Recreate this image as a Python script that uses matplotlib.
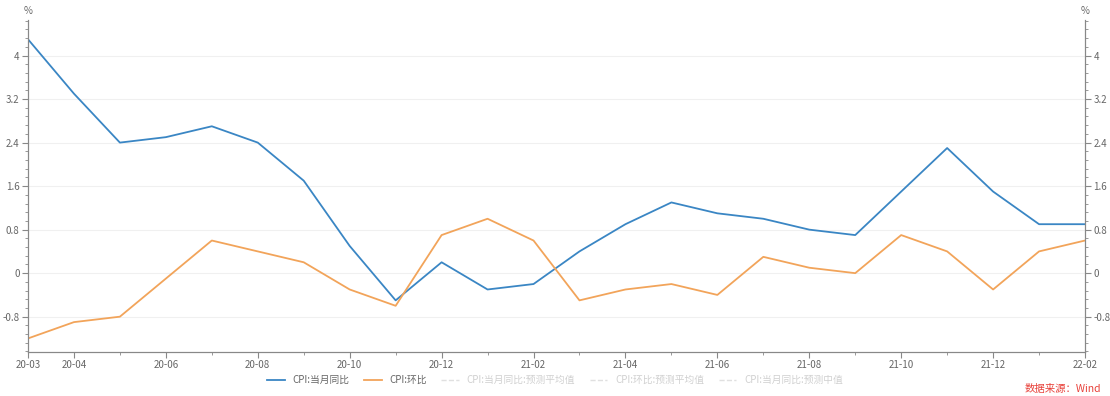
import matplotlib
matplotlib.use('Agg')
import matplotlib.pyplot as plt
import numpy as np
from matplotlib.ticker import MultipleLocator

plt.rcParams['font.family'] = ['Noto Sans CJK SC', 'DejaVu Sans']

# 数据：2020-03 ~ 2022-02
months = ['20-03', '20-04', '20-05', '20-06', '20-07', '20-08', '20-09', '20-10',
          '20-11', '20-12', '21-01', '21-02', '21-03', '21-04', '21-05', '21-06',
          '21-07', '21-08', '21-09', '21-10', '21-11', '21-12', '22-01', '22-02']
cpi_yoy = [4.3, 3.3, 2.4, 2.5, 2.7, 2.4, 1.7, 0.5, -0.5, 0.2, -0.3, -0.2,
           0.4, 0.9, 1.3, 1.1, 1.0, 0.8, 0.7, 1.5, 2.3, 1.5, 0.9, 0.9]
cpi_mom = [-1.2, -0.9, -0.8, -0.1, 0.6, 0.4, 0.2, -0.3, -0.6, 0.7, 1.0, 0.6,
           -0.5, -0.3, -0.2, -0.4, 0.3, 0.1, 0.0, 0.7, 0.4, -0.3, 0.4, 0.6]
tick_labels = ['20-03', '20-04', '20-06', '20-08', '20-10', '20-12', '21-02',
               '21-04', '21-06', '21-08', '21-10', '21-12', '22-02']
legend_names = ['CPI:当月同比', 'CPI:环比', 'CPI:当月同比:预测平均值',
                'CPI:环比:预测平均值', 'CPI:当月同比:预测中值']

x = np.arange(len(months))
grey = '#666666'

fig = plt.figure(figsize=(11.1, 3.96), dpi=100)
ax = fig.add_axes([0.0252, 0.111, 0.9523, 0.838])

l1, = ax.plot(x, cpi_yoy, color='#3a86c4', lw=1.3)
l2, = ax.plot(x, cpi_mom, color='#f2a45a', lw=1.3)
# 淡色的预测图例项（无数据显示）
l3, = ax.plot([], [], color='#e0e0e0', lw=1, ls='--')
l4, = ax.plot([], [], color='#e0e0e0', lw=1, ls='--')
l5, = ax.plot([], [], color='#e0e0e0', lw=1, ls='--')

ax.set_xlim(0, len(months) - 1)
ax.set_ylim(-1.45, 4.65)
ax.yaxis.set_major_locator(MultipleLocator(0.8))
ax.yaxis.set_minor_locator(MultipleLocator(0.16))
ax.yaxis.set_major_formatter(plt.FuncFormatter(lambda v, p: '%g' % round(v, 1)))
ax.set_xticks([months.index(t) for t in tick_labels])
ax.set_xticklabels(tick_labels)
ax.set_xticks(x, minor=True)
ax.grid(axis='y', color='#f0f0f0', lw=0.8)

ax2 = ax.twinx()
ax2.set_ylim(ax.get_ylim())
ax2.yaxis.set_major_locator(MultipleLocator(0.8))
ax2.yaxis.set_minor_locator(MultipleLocator(0.16))
ax2.yaxis.set_major_formatter(plt.FuncFormatter(lambda v, p: '%g' % round(v, 1)))

for a in (ax, ax2):
    a.spines['top'].set_visible(False)
    for s in ('left', 'right', 'bottom'):
        a.spines[s].set_color('#888888')
        a.spines[s].set_linewidth(0.8)
    a.tick_params(which='both', colors='#888888', labelcolor=grey, labelsize=7)
    a.tick_params(which='major', length=4, pad=2)
    a.tick_params(which='minor', length=2)

fig.text(0.0252, 0.965, '%', fontsize=7, color=grey, ha='center')
fig.text(0.9775, 0.965, '%', fontsize=7, color=grey, ha='center')

leg = fig.legend([l1, l2, l3, l4, l5], legend_names, loc='center',
                 bbox_to_anchor=(0.5, 0.04), ncol=5, frameon=False,
                 fontsize=7, handlelength=1.8, columnspacing=1.5)
for i, t in enumerate(leg.get_texts()):
    t.set_color(grey if i < 2 else '#d0d0d0')

fig.text(0.992, 0.005, '数据来源：Wind', color='#e8413a', fontsize=7.5,
         ha='right', va='bottom')

fig.savefig('out.png', dpi=100)
